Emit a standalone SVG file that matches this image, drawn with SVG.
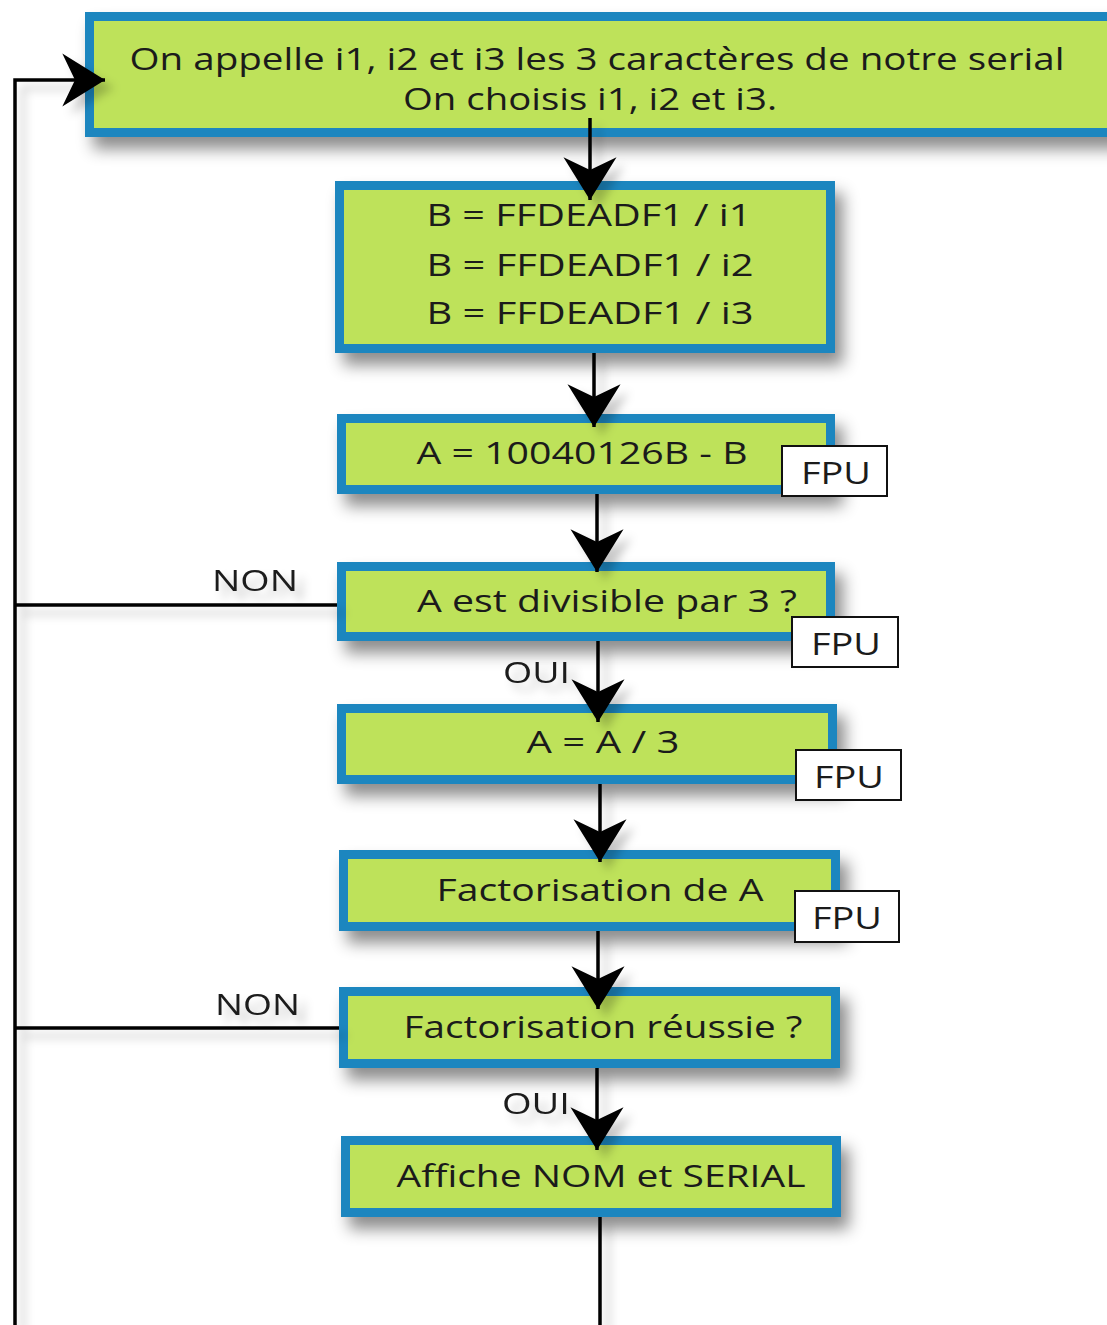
<svg xmlns="http://www.w3.org/2000/svg" width="1107" height="1325" viewBox="0 0 1107 1325">
<style>
.box{fill:#bee25a;stroke:#1e86bf;stroke-width:9}
.t{font-family:"Open Sans","Noto Sans","Liberation Sans",sans-serif;font-size:31px;fill:#1b1b1b;text-anchor:middle}
.lbl{font-family:"Open Sans","Noto Sans","Liberation Sans",sans-serif;font-size:30px;fill:#1b1b1b}
.fpu{fill:#fff;stroke:#111;stroke-width:2}
.ln{fill:none;stroke:#000;stroke-width:3.5}
</style>
<defs>
<filter id="sh" x="-10%" y="-20%" width="130%" height="170%">
<feDropShadow dx="8" dy="12" stdDeviation="8" flood-color="#000" flood-opacity="0.45"/>
</filter>
<filter id="lsh" x="-50%" y="-50%" width="200%" height="200%">
<feDropShadow dx="8" dy="8" stdDeviation="5" flood-color="#000" flood-opacity="0.22"/>
</filter>
<marker id="arr" markerUnits="userSpaceOnUse" markerWidth="50" markerHeight="60" viewBox="-40 -26 42 52" refX="0" refY="0" orient="auto">
<path d="M0,0 L-37,-23 L-26,0 L-37,23 Z" fill="#000"/>
</marker>
</defs>
<rect width="1107" height="1325" fill="#fff"/>

<g id="n1">
<rect class="box" x="89.5" y="16.5" width="1040" height="116" filter="url(#sh)"/>
<text class="t" x="597" y="70" textLength="935" lengthAdjust="spacingAndGlyphs">On appelle i1, i2 et i3 les 3 caractères de notre serial</text>
<text class="t" x="590" y="110" textLength="374" lengthAdjust="spacingAndGlyphs">On choisis i1, i2 et i3.</text>
</g>

<g id="n2">
<rect class="box" x="339.5" y="185.5" width="491" height="163" filter="url(#sh)"/>
<text class="t" x="589" y="226" textLength="325" lengthAdjust="spacingAndGlyphs">B = FFDEADF1 / i1</text>
<text class="t" x="590" y="276" textLength="327" lengthAdjust="spacingAndGlyphs">B = FFDEADF1 / i2</text>
<text class="t" x="590" y="324" textLength="327" lengthAdjust="spacingAndGlyphs">B = FFDEADF1 / i3</text>
</g>

<g id="n3">
<rect class="box" x="341.5" y="418.5" width="489" height="71" filter="url(#sh)"/>
<text class="t" x="582" y="464" textLength="331" lengthAdjust="spacingAndGlyphs">A = 10040126B - B</text>
<rect class="fpu" x="782" y="446" width="105" height="50"/>
<text class="t" x="836" y="484" textLength="70" lengthAdjust="spacingAndGlyphs">FPU</text>
</g>

<g id="n4">
<rect class="box" x="341.5" y="566.5" width="489" height="70" filter="url(#sh)"/>
<text class="t" x="607" y="612" textLength="380" lengthAdjust="spacingAndGlyphs">A est divisible par 3 ?</text>
<rect class="fpu" x="792" y="617" width="106" height="50"/>
<text class="t" x="846" y="655" textLength="70" lengthAdjust="spacingAndGlyphs">FPU</text>
</g>

<g id="n5">
<rect class="box" x="341.5" y="708.5" width="491" height="71" filter="url(#sh)"/>
<text class="t" x="603" y="753" textLength="153" lengthAdjust="spacingAndGlyphs">A = A / 3</text>
<rect class="fpu" x="796" y="750" width="105" height="50"/>
<text class="t" x="849" y="788" textLength="70" lengthAdjust="spacingAndGlyphs">FPU</text>
</g>

<g id="n6">
<rect class="box" x="343.5" y="854.5" width="492" height="72" filter="url(#sh)"/>
<text class="t" x="600" y="901" textLength="327" lengthAdjust="spacingAndGlyphs">Factorisation de A</text>
<rect class="fpu" x="795" y="891" width="104" height="51"/>
<text class="t" x="847" y="929" textLength="70" lengthAdjust="spacingAndGlyphs">FPU</text>
</g>

<g id="n7">
<rect class="box" x="343.5" y="991.5" width="492" height="72" filter="url(#sh)"/>
<text class="t" x="603" y="1038" textLength="399" lengthAdjust="spacingAndGlyphs">Factorisation réussie ?</text>
</g>

<g id="n8">
<rect class="box" x="345.5" y="1140.5" width="491" height="72" filter="url(#sh)"/>
<text class="t" x="601" y="1187" textLength="409" lengthAdjust="spacingAndGlyphs">Affiche NOM et SERIAL</text>
</g>

<g id="connectors" filter="url(#lsh)">
<path class="ln" d="M15,1325 V80 H105" marker-end="url(#arr)"/>
<path class="ln" d="M15,605 H337"/>
<path class="ln" d="M15,1028 H339"/>
<path class="ln" d="M590,118 V200" marker-end="url(#arr)"/>
<path class="ln" d="M594,353 V427" marker-end="url(#arr)"/>
<path class="ln" d="M597,494 V572" marker-end="url(#arr)"/>
<path class="ln" d="M598,641 V722" marker-end="url(#arr)"/>
<path class="ln" d="M600,784 V862" marker-end="url(#arr)"/>
<path class="ln" d="M598,931 V1009" marker-end="url(#arr)"/>
<path class="ln" d="M597,1068 V1150" marker-end="url(#arr)"/>
<path class="ln" d="M600,1217 V1325"/>
<text class="lbl" x="212" y="591" textLength="86" lengthAdjust="spacingAndGlyphs">NON</text>
<text class="lbl" x="215" y="1015" textLength="85" lengthAdjust="spacingAndGlyphs">NON</text>
<text class="lbl" x="503" y="683" textLength="67" lengthAdjust="spacingAndGlyphs">OUI</text>
<text class="lbl" x="502" y="1114" textLength="68" lengthAdjust="spacingAndGlyphs">OUI</text>
</g>
</svg>
